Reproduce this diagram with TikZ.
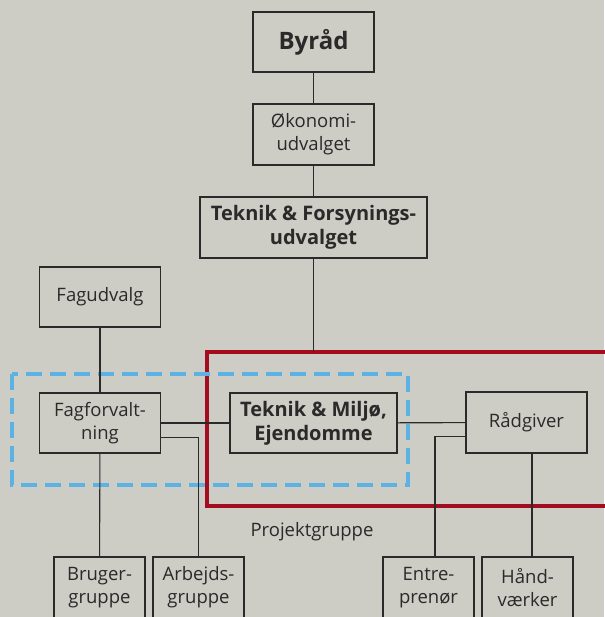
\documentclass[tikz,border=0pt]{standalone}
\usepackage{fontspec}
\setmainfont{Open Sans}
\usetikzlibrary{positioning}
\definecolor{bggray}{RGB}{205,204,197}
\definecolor{frameblue}{RGB}{92,178,226}
\definecolor{framered}{RGB}{163,12,30}
\definecolor{ink}{RGB}{42,42,42}
\tikzset{
  box/.style={rectangle, draw=ink, line width=1.2pt, fill=bggray, text=ink, align=center,
    inner sep=0pt, minimum width=121pt, minimum height=61pt, font=\fontsize{18.5}{23}\selectfont},
  bbox/.style={box, font=\fontsize{20}{24}\bfseries\selectfont},
  sbox/.style={box, minimum width=91pt},
  ln/.style={draw=ink, line width=1.1pt},
  lbl/.style={text=ink, font=\fontsize{18.5}{23}\selectfont},
  redframe/.style={draw=framered, line width=4.2pt},
  blueframe/.style={draw=frameblue, line width=4pt, dash pattern=on 16pt off 8pt}
}
\begin{document}
\begin{tikzpicture}[x=1pt,y=-1pt]

\fill[bggray] (0,0) rectangle (604,617);
\useasboundingbox (0,0) rectangle (604,617);

% top of the chain
\node (byraad) [box, minimum height=60pt, font=\fontsize{24}{28}\bfseries\selectfont] at (313.5,42) {Byråd};
\node (oekonomi) [box] at (313.5,134.5) {Økonomi-\\udvalget};
\node (tfu) [bbox, minimum width=227pt] at (313.5,227.5) {Teknik \& Forsynings-\\udvalget};

% middle row
\node (fagudvalg) [box, minimum height=60pt] at (100,297) {Fagudvalg};
\node (fagforv) [box, minimum height=60pt] at (100,423) {Fagforvalt-\\ning};
\node (tm) [bbox, minimum width=167pt, minimum height=60pt] at (313.5,423) {Teknik \& Miljø,\\Ejendomme};
\node (raad) [box] at (526.5,422.5) {Rådgiver};

% bottom row
\node (bruger) [sbox] at (99.5,587.5) {Bruger-\\gruppe};
\node (arbejd) [sbox] at (198.5,587.5) {Arbejds-\\gruppe};
\node (entre) [sbox] at (428.5,587.5) {Entre-\\prenør};
\node (haand) [sbox] at (527.5,587.5) {Hånd-\\værker};

\node (projekt) [lbl] at (312,532) {Projektgruppe};

% frames
\draw[redframe] (207,352) rectangle (640,506);
\draw[blueframe] (12,374) rectangle (408,485);
\coordinate (redtop) at (313.5,352);

% connectors
\draw[ln] (byraad) -- (oekonomi);
\draw[ln] (oekonomi) -- (tfu);
\draw[ln] (tfu) -- (redtop);
\draw[ln] (fagudvalg) -- (fagforv);
\draw[ln] (fagforv) -- (tm);
\draw[ln] ([yshift=-14.5pt]fagforv.east) -| (arbejd);
\draw[ln] (fagforv) -- (bruger);
\draw[ln] (tm) -- (raad);
\draw[ln] ([yshift=-14pt]raad.west) -| ([xshift=6.5pt]entre.north);
\draw[ln] ([xshift=5.5pt]raad.south) -- ([xshift=4.5pt]haand.north);

\end{tikzpicture}
\end{document}
